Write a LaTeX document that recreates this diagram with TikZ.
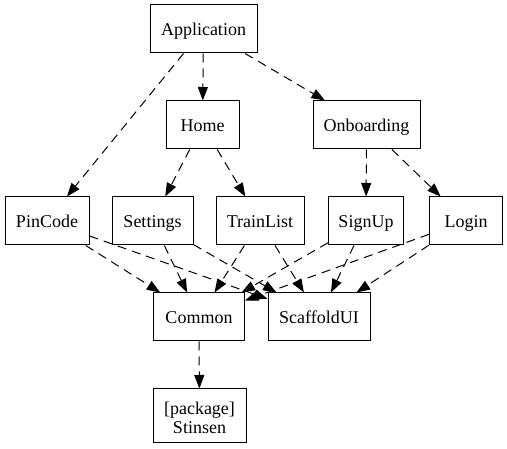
\documentclass[tikz,border=0pt]{standalone}
\usepackage{fontspec}
\setmainfont{Liberation Serif}
\usetikzlibrary{arrows.meta}
\begin{document}
\begin{tikzpicture}[x=1pt,y=-1pt,
  box/.style={draw=black,line width=1pt,rectangle,inner sep=0pt,minimum height=48pt,
    font=\fontsize{18}{19}\selectfont,align=center,text height=14pt,text depth=0pt},
  dep/.style={draw=black,line width=1pt,dash pattern=on 9pt off 6pt,
    -{Triangle[length=13.5pt,width=10pt]}}]
\useasboundingbox (0,0) rectangle (507,449);
\node[box,minimum width=107pt] (app) at (203.5,29) {Application};
\node[box,minimum width=73pt] (home) at (202.5,125) {Home};
\node[box,minimum width=107pt] (onb) at (366.5,125) {Onboarding};
\node[box,minimum width=84pt] (pin) at (47,221) {PinCode};
\node[box,minimum width=81pt] (set) at (152.5,221) {Settings};
\node[box,minimum width=88pt] (train) at (260,221) {TrainList};
\node[box,minimum width=75pt] (signup) at (366,221) {SignUp};
\node[box,minimum width=73pt] (login) at (466,221) {Login};
\node[box,minimum width=91pt] (common) at (199,317) {Common};
\node[box,minimum width=102pt] (scaf) at (319,317) {ScaffoldUI};
\node[draw=black,line width=1pt,rectangle,inner sep=0pt,minimum width=93pt,minimum height=54pt,
  font=\fontsize{18}{19}\selectfont,align=center] (stinsen) at (199.5,416) {};
\node[font=\fontsize{18}{19}\selectfont,align=center,inner sep=0pt] (stinsenlabel) at ([yshift=-2pt]stinsen.center) {[package]\\Stinsen};
\draw[dep] (app) -- (pin);
\draw[dep] (app) -- (home);
\draw[dep] (app) -- (onb);
\draw[dep] (home) -- (set);
\draw[dep] (home) -- (train);
\draw[dep] (onb) -- (signup);
\draw[dep] (onb) -- (login);
\foreach \s in {pin,set,train,signup,login}{
  \draw[dep] (\s) -- (common);
  \draw[dep] (\s) -- (scaf);
}
\draw[dep] (common) -- (stinsen);
\end{tikzpicture}
\end{document}
